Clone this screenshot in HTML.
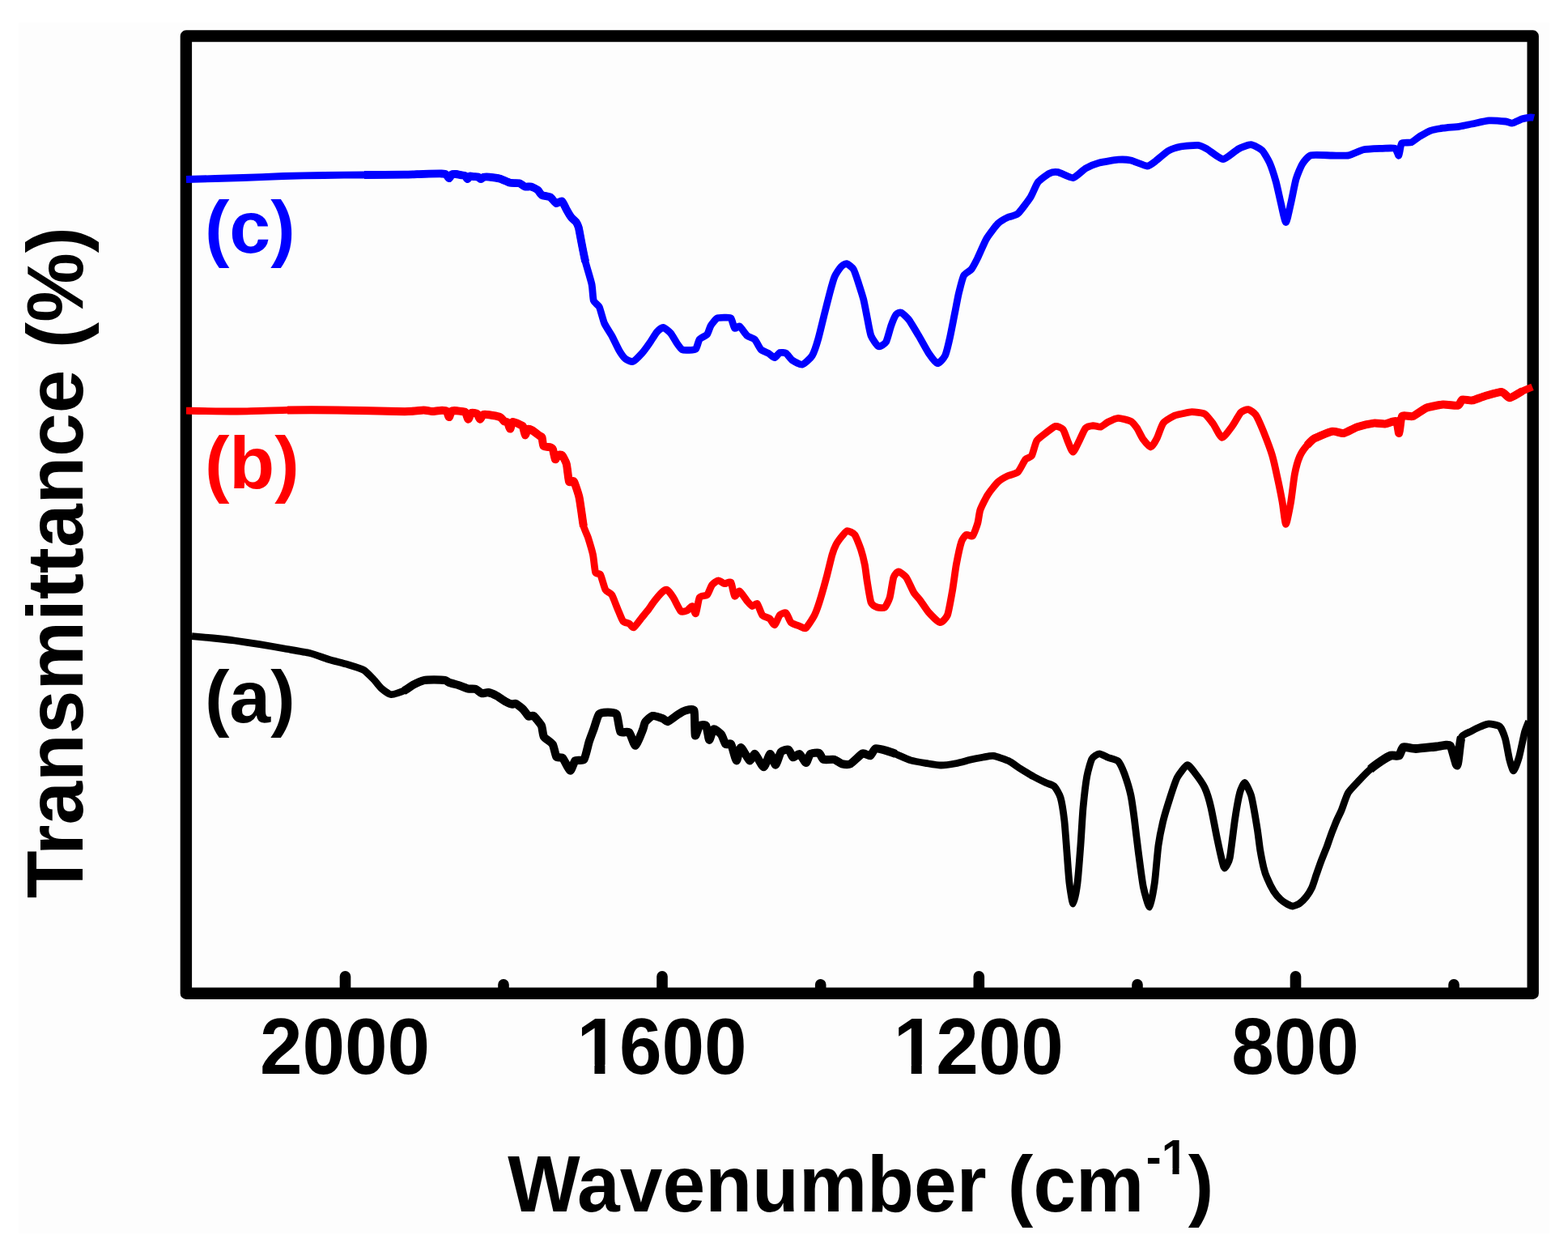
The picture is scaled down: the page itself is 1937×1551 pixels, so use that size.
<!DOCTYPE html>
<html><head><meta charset="utf-8"><title>FTIR spectra</title>
<style>html,body{margin:0;padding:0;background:#fff;}body{width:1937px;height:1551px;overflow:hidden;}svg{display:block;}</style>
</head><body>
<svg width="1937" height="1551" viewBox="0 0 1937 1551">
<rect width="1937" height="1551" fill="#ffffff"/>
<rect x="23" y="28" width="1891" height="1495" fill="#fdfdfd"/>
<path d="M426.5 1226.7V1205.8M818.0 1226.7V1205.8M1209.3 1226.7V1205.8M1600.5 1226.7V1205.8M622.0 1226.7V1215.8M1013.7 1226.7V1215.8M1405.0 1226.7V1215.8M1796.0 1226.7V1215.8" stroke="#000" stroke-width="13.6" stroke-linecap="round" fill="none"/>
<rect x="229.9" y="44.5" width="1663.8" height="1182.2" fill="none" stroke="#000" stroke-width="14.4" stroke-linejoin="round"/>
<path d="M237.0 785.6C239.6 785.8 258.1 787.5 263.4 788.0C268.7 788.5 284.0 790.2 289.7 791.0C295.4 791.8 314.5 794.6 320.7 795.6C326.9 796.6 345.4 799.9 351.6 801.0C357.8 802.1 377.2 805.2 382.6 806.5C388.0 807.8 401.2 812.8 405.8 814.2C410.4 815.6 424.7 819.1 429.0 820.4C433.3 821.7 445.9 825.5 449.2 827.4C452.5 829.3 459.4 836.8 461.6 839.0C463.8 841.2 468.7 847.9 470.9 849.8C473.1 851.7 480.5 857.3 483.3 857.6C486.1 857.9 496.1 854.2 498.8 853.0C501.5 851.8 507.8 847.1 510.3 845.8C512.8 844.5 521.1 840.7 523.7 840.1C526.3 839.5 533.5 839.4 536.1 839.4C538.7 839.4 547.6 839.7 549.6 840.1C551.6 840.5 554.0 842.6 555.8 843.2C557.5 843.8 564.8 845.6 567.1 846.3C569.4 847.0 576.4 850.0 578.5 850.5C580.6 851.0 586.1 850.4 587.8 851.0C589.4 851.6 593.5 855.7 595.0 856.1C596.5 856.5 601.4 854.8 603.3 855.1C605.2 855.4 611.5 858.1 613.6 859.2C615.7 860.3 622.0 865.0 623.9 866.0C625.8 867.0 630.9 869.3 632.2 869.6C633.5 869.9 635.9 868.3 637.3 869.0C638.7 869.7 645.1 874.8 646.6 876.3C648.1 877.8 651.6 883.7 652.8 884.5C654.0 885.3 657.4 882.9 659.0 884.0C660.6 885.1 667.5 893.3 668.8 895.9C670.1 898.5 670.5 907.5 671.9 909.8C673.3 912.1 681.2 916.6 682.7 919.1C684.2 921.6 686.2 932.9 687.4 934.6C688.6 936.3 693.4 934.5 695.1 936.2C696.8 937.9 702.9 951.3 704.4 951.6C705.9 951.9 708.9 940.7 710.6 939.3C712.3 937.9 719.8 940.0 721.5 937.7C723.2 935.4 726.5 919.9 727.7 916.0C728.9 912.1 732.7 902.4 733.9 899.0C735.1 895.6 738.3 883.9 740.0 882.0C741.7 880.1 748.7 879.6 750.9 879.6C753.1 879.6 760.2 879.6 761.7 882.0C763.2 884.4 764.9 901.4 766.4 903.6C767.9 905.8 775.3 902.7 777.2 904.4C779.1 906.1 783.3 921.1 785.0 920.7C786.7 920.3 793.1 903.4 794.3 900.5C795.5 897.6 795.8 893.4 797.0 891.8C798.2 890.1 804.1 884.5 806.3 884.0C808.5 883.5 816.8 886.5 818.7 887.2C820.6 887.9 823.0 891.5 824.9 891.0C826.8 890.5 835.1 883.9 837.3 882.5C839.5 881.1 844.7 877.9 846.7 877.4C848.7 876.9 856.2 874.3 857.4 877.4C858.6 880.5 858.1 906.4 858.8 908.3C859.5 910.2 862.9 897.4 864.2 896.2C865.5 895.0 871.0 894.5 872.2 896.2C873.4 898.0 875.3 913.3 876.2 913.7C877.1 914.1 880.1 901.0 881.6 900.3C883.1 899.6 889.5 905.1 891.0 907.0C892.5 908.9 895.2 917.8 896.4 919.0C897.6 920.2 901.8 917.0 903.1 919.0C904.4 921.0 908.6 938.8 909.8 939.2C911.0 939.6 913.6 923.0 915.2 923.0C916.8 923.0 924.2 938.4 925.9 939.2C927.6 940.0 930.9 930.3 932.6 931.1C934.4 931.9 941.5 947.2 943.4 947.2C945.3 947.2 949.9 931.4 951.4 931.1C952.9 930.8 956.8 944.9 958.1 944.6C959.4 944.3 963.2 930.4 964.8 928.5C966.4 926.6 972.7 925.1 974.2 925.8C975.7 926.5 978.2 934.7 979.6 935.2C981.0 935.7 986.1 930.4 987.7 931.1C989.3 931.8 994.4 941.9 995.7 941.9C997.0 941.9 999.4 932.3 1001.0 931.1C1002.6 929.9 1010.2 929.1 1011.8 929.8C1013.4 930.5 1015.3 937.1 1017.2 937.9C1019.1 938.7 1028.3 937.4 1030.6 937.9C1032.9 938.4 1038.0 942.7 1040.0 943.2C1042.0 943.7 1048.2 944.5 1050.7 943.2C1053.2 941.9 1063.1 931.5 1065.5 930.5C1067.9 929.5 1073.4 933.8 1075.0 933.2C1076.6 932.6 1079.6 925.0 1081.6 924.4C1083.6 923.8 1092.5 926.3 1095.0 927.0C1097.5 927.7 1103.5 929.9 1106.5 931.1C1109.5 932.3 1121.1 937.7 1125.0 938.9C1128.9 940.1 1141.5 942.1 1145.2 942.7C1148.9 943.3 1158.6 945.0 1162.2 945.0C1165.8 945.0 1177.1 943.4 1180.8 942.7C1184.5 942.0 1196.0 938.8 1199.4 938.0C1202.8 937.2 1212.1 935.5 1214.9 935.0C1217.7 934.5 1224.2 932.9 1227.3 933.4C1230.4 933.9 1242.4 938.0 1245.8 939.6C1249.2 941.2 1258.2 947.8 1261.3 949.7C1264.4 951.6 1273.7 957.3 1276.8 959.0C1279.9 960.7 1289.7 965.5 1292.3 966.7C1294.9 967.9 1300.6 969.3 1302.4 971.1C1304.2 972.9 1308.9 980.8 1310.1 985.0C1311.3 989.2 1314.0 1006.2 1314.8 1012.9C1315.6 1019.6 1317.3 1043.8 1317.9 1051.6C1318.5 1059.3 1320.2 1084.0 1321.0 1090.4C1321.8 1096.8 1324.6 1116.0 1325.6 1116.0C1326.6 1116.0 1330.1 1097.6 1331.0 1090.4C1331.9 1083.2 1334.2 1053.2 1334.9 1043.9C1335.6 1034.6 1337.2 1005.9 1338.0 997.4C1338.8 988.9 1341.6 964.7 1342.7 958.7C1343.8 952.7 1347.4 939.8 1348.9 937.0C1350.4 934.2 1356.1 930.9 1358.1 930.8C1360.1 930.6 1366.7 934.6 1369.0 935.5C1371.3 936.4 1379.4 938.1 1381.4 940.1C1383.4 942.1 1387.5 951.4 1389.1 955.6C1390.6 959.8 1395.7 976.3 1396.9 982.0C1398.1 987.7 1400.6 1005.9 1401.5 1012.9C1402.4 1019.9 1405.1 1043.4 1406.2 1051.6C1407.3 1059.8 1410.9 1088.2 1412.3 1095.0C1413.7 1101.8 1418.7 1120.5 1420.1 1120.0C1421.5 1119.5 1425.2 1098.0 1426.3 1090.4C1427.4 1082.8 1429.9 1051.7 1431.0 1043.9C1432.1 1036.2 1435.7 1018.6 1437.1 1012.9C1438.5 1007.2 1443.2 991.9 1444.9 986.6C1446.6 981.3 1452.0 964.5 1454.2 960.3C1456.4 956.1 1464.4 945.4 1466.6 944.8C1468.8 944.2 1473.6 951.3 1475.8 954.1C1478.0 956.9 1486.2 968.4 1488.2 972.7C1490.2 977.0 1494.5 991.0 1496.0 997.4C1497.5 1003.8 1502.3 1029.5 1503.7 1036.2C1505.1 1042.9 1509.0 1060.4 1509.9 1064.0C1510.8 1067.6 1512.1 1072.3 1513.0 1071.8C1513.9 1071.3 1518.0 1065.3 1519.2 1059.4C1520.4 1053.5 1524.2 1021.0 1525.4 1012.9C1526.6 1004.8 1530.4 983.5 1531.6 978.9C1532.8 974.3 1536.4 966.2 1537.8 966.5C1539.2 966.8 1544.4 978.6 1545.5 982.0C1546.6 985.4 1548.4 995.7 1549.2 1000.0C1550.0 1004.3 1552.6 1020.1 1553.4 1025.1C1554.2 1030.1 1556.0 1045.7 1556.8 1050.3C1557.6 1054.9 1560.2 1067.9 1561.0 1071.2C1561.8 1074.5 1563.8 1080.9 1565.1 1083.8C1566.3 1086.7 1571.8 1097.9 1573.5 1100.6C1575.2 1103.3 1580.2 1109.0 1581.9 1110.6C1583.6 1112.2 1588.8 1115.7 1590.3 1116.5C1591.8 1117.3 1595.5 1119.1 1597.0 1119.0C1598.5 1118.9 1603.7 1116.9 1605.4 1115.7C1607.1 1114.5 1612.3 1109.2 1613.8 1107.3C1615.3 1105.4 1619.2 1099.2 1620.5 1096.4C1621.8 1093.6 1625.1 1082.9 1626.3 1079.6C1627.5 1076.2 1630.9 1066.2 1632.2 1062.9C1633.5 1059.6 1637.6 1049.5 1638.9 1046.1C1640.2 1042.7 1643.5 1032.6 1644.8 1029.3C1646.1 1026.0 1650.2 1015.5 1651.5 1012.6C1652.8 1009.7 1656.0 1003.4 1657.4 1000.0C1658.8 996.6 1663.2 982.6 1665.4 979.0C1667.6 975.4 1676.3 966.6 1679.0 963.7C1681.7 960.8 1690.0 952.4 1692.7 950.0C1695.4 947.6 1703.8 941.5 1706.3 939.8C1708.8 938.1 1716.0 933.7 1718.2 933.0C1720.4 932.3 1726.9 934.0 1728.4 933.0C1729.9 932.0 1731.5 923.6 1733.5 922.8C1735.5 921.9 1744.8 924.6 1748.9 924.5C1753.0 924.4 1770.1 922.4 1774.4 922.0C1778.7 921.6 1788.9 918.7 1791.5 921.0C1794.1 923.3 1798.6 946.0 1800.0 945.0C1801.4 944.0 1803.4 915.1 1805.1 910.9C1806.8 906.7 1814.6 904.6 1817.0 903.2C1819.4 901.8 1826.8 898.2 1829.0 897.3C1831.2 896.4 1836.8 893.9 1839.2 893.9C1841.6 893.9 1850.8 895.4 1852.8 897.3C1854.8 899.2 1858.4 908.5 1859.6 912.6C1860.8 916.7 1863.7 934.1 1864.7 938.0C1865.7 941.9 1868.6 952.1 1869.8 951.8C1871.0 951.5 1875.2 939.5 1876.6 934.7C1878.0 929.9 1882.3 908.4 1883.5 904.0C1884.7 899.6 1888.1 891.8 1888.6 890.4" fill="none" stroke="#000000" stroke-width="8.8" stroke-linejoin="round" stroke-linecap="butt"/>
<path d="M498.8 853.0C501.5 851.8 507.8 847.1 510.3 845.8C512.8 844.5 521.1 840.7 523.7 840.1C526.3 839.5 533.5 839.4 536.1 839.4C538.7 839.4 547.6 839.7 549.6 840.1C551.6 840.5 554.0 842.6 555.8 843.2C557.5 843.8 564.8 845.6 567.1 846.3C569.4 847.0 576.4 850.0 578.5 850.5C580.6 851.0 586.1 850.4 587.8 851.0C589.4 851.6 593.5 855.7 595.0 856.1C596.5 856.5 601.4 854.8 603.3 855.1C605.2 855.4 611.5 858.1 613.6 859.2C615.7 860.3 622.0 865.0 623.9 866.0C625.8 867.0 630.9 869.3 632.2 869.6C633.5 869.9 635.9 868.3 637.3 869.0C638.7 869.7 645.1 874.8 646.6 876.3C648.1 877.8 651.6 883.7 652.8 884.5C654.0 885.3 657.4 882.9 659.0 884.0C660.6 885.1 667.5 893.3 668.8 895.9C670.1 898.5 670.5 907.5 671.9 909.8C673.3 912.1 681.2 916.6 682.7 919.1C684.2 921.6 686.2 932.9 687.4 934.6C688.6 936.3 693.4 934.5 695.1 936.2C696.8 937.9 702.9 951.3 704.4 951.6C705.9 951.9 708.9 940.7 710.6 939.3C712.3 937.9 719.8 940.0 721.5 937.7C723.2 935.4 726.5 919.9 727.7 916.0C728.9 912.1 732.7 902.4 733.9 899.0C735.1 895.6 738.3 883.9 740.0 882.0C741.7 880.1 748.7 879.6 750.9 879.6C753.1 879.6 760.2 879.6 761.7 882.0C763.2 884.4 764.9 901.4 766.4 903.6C767.9 905.8 775.3 902.7 777.2 904.4C779.1 906.1 783.3 921.1 785.0 920.7C786.7 920.3 793.1 903.4 794.3 900.5C795.5 897.6 795.8 893.4 797.0 891.8C798.2 890.1 804.1 884.5 806.3 884.0C808.5 883.5 816.8 886.5 818.7 887.2C820.6 887.9 823.0 891.5 824.9 891.0C826.8 890.5 835.1 883.9 837.3 882.5C839.5 881.1 844.7 877.9 846.7 877.4C848.7 876.9 856.2 874.3 857.4 877.4C858.6 880.5 858.1 906.4 858.8 908.3C859.5 910.2 862.9 897.4 864.2 896.2C865.5 895.0 871.0 894.5 872.2 896.2C873.4 898.0 875.3 913.3 876.2 913.7C877.1 914.1 880.1 901.0 881.6 900.3C883.1 899.6 889.5 905.1 891.0 907.0C892.5 908.9 895.2 917.8 896.4 919.0C897.6 920.2 901.8 917.0 903.1 919.0C904.4 921.0 908.6 938.8 909.8 939.2C911.0 939.6 913.6 923.0 915.2 923.0C916.8 923.0 924.2 938.4 925.9 939.2C927.6 940.0 930.9 930.3 932.6 931.1C934.4 931.9 941.5 947.2 943.4 947.2C945.3 947.2 949.9 931.4 951.4 931.1C952.9 930.8 956.8 944.9 958.1 944.6C959.4 944.3 963.2 930.4 964.8 928.5C966.4 926.6 972.7 925.1 974.2 925.8C975.7 926.5 978.2 934.7 979.6 935.2C981.0 935.7 986.1 930.4 987.7 931.1C989.3 931.8 994.4 941.9 995.7 941.9C997.0 941.9 999.4 932.3 1001.0 931.1C1002.6 929.9 1010.2 929.1 1011.8 929.8C1013.4 930.5 1015.3 937.1 1017.2 937.9C1019.1 938.7 1028.3 937.4 1030.6 937.9C1032.9 938.4 1038.0 942.7 1040.0 943.2C1042.0 943.7 1048.2 944.5 1050.7 943.2C1053.2 941.9 1063.1 931.5 1065.5 930.5C1067.9 929.5 1073.4 933.8 1075.0 933.2C1076.6 932.6 1079.6 925.0 1081.6 924.4C1083.6 923.8 1092.5 926.3 1095.0 927.0C1097.5 927.7 1103.5 929.9 1106.5 931.1" fill="none" stroke="#000000" stroke-width="10.2" stroke-linejoin="round" stroke-linecap="butt"/>
<path d="M1692.7 950.0C1695.4 947.6 1703.8 941.5 1706.3 939.8C1708.8 938.1 1716.0 933.7 1718.2 933.0C1720.4 932.3 1726.9 934.0 1728.4 933.0C1729.9 932.0 1731.5 923.6 1733.5 922.8C1735.5 921.9 1744.8 924.6 1748.9 924.5C1753.0 924.4 1770.1 922.4 1774.4 922.0C1778.7 921.6 1788.9 918.7 1791.5 921.0C1794.1 923.3 1798.6 946.0 1800.0 945.0C1801.4 944.0 1803.4 915.1 1805.1 910.9" fill="none" stroke="#000000" stroke-width="10.8" stroke-linejoin="round" stroke-linecap="butt"/>
<path d="M230.0 507.2C236.3 507.3 280.5 508.1 293.0 508.0C305.5 507.9 342.6 506.6 355.0 506.4C367.4 506.2 402.3 506.2 416.8 506.4C431.3 506.6 489.4 508.2 500.0 508.2C510.6 508.2 519.8 506.5 523.2 506.5C526.6 506.5 532.0 508.0 534.0 508.0C536.0 508.0 541.6 506.9 543.4 506.9C545.1 506.8 550.4 506.7 551.5 507.5C552.6 508.3 554.1 515.1 554.8 515.1C555.4 515.1 557.1 508.3 558.0 507.5C558.9 506.7 562.8 507.1 564.1 507.2C565.4 507.3 570.2 508.0 571.3 508.2C572.4 508.4 574.3 508.1 575.0 509.0C575.7 509.9 577.8 517.6 578.5 517.7C579.2 517.8 581.3 510.8 582.0 510.0C582.7 509.2 585.0 509.9 585.8 510.0C586.5 510.1 588.8 510.2 589.5 511.0C590.2 511.8 592.2 517.6 593.0 517.7C593.8 517.8 595.9 512.5 597.0 512.0C598.1 511.5 602.2 512.0 604.3 512.3C606.4 512.6 615.9 514.3 617.8 515.1C619.7 515.9 622.0 519.7 622.9 520.3C623.8 520.9 626.3 520.6 627.0 521.5C627.7 522.4 629.6 529.6 630.2 529.6C630.9 529.6 632.2 521.5 633.5 521.0C634.8 520.5 642.4 524.5 643.6 525.0C644.9 525.5 645.5 525.3 646.0 526.5C646.5 527.7 648.1 536.9 648.7 537.3C649.3 537.6 651.2 530.6 652.0 530.0C652.8 529.4 655.6 530.3 657.0 531.1C658.4 531.9 665.0 537.0 666.3 537.9C667.5 538.8 669.0 538.7 669.5 540.0C670.0 541.3 670.5 549.6 671.5 550.8C672.5 552.0 678.6 551.9 679.7 552.3C680.9 552.7 682.4 553.5 683.0 555.0C683.6 556.5 685.3 566.6 685.9 567.3C686.5 568.0 688.2 562.5 689.0 562.0C689.8 561.5 693.1 561.0 694.2 562.1C695.3 563.2 698.9 569.8 699.8 573.0C700.7 576.2 702.1 592.4 703.0 594.6C703.9 596.8 707.8 592.7 709.0 594.6C710.2 596.5 714.4 609.7 715.3 613.2C716.2 616.7 717.4 626.3 718.0 630.0C718.6 633.7 720.2 646.7 721.0 650.0C721.8 653.3 725.1 659.9 726.3 663.4C727.4 666.9 731.6 680.7 732.5 685.0C733.4 689.3 734.7 704.2 735.6 706.7C736.5 709.2 740.6 707.6 741.8 709.8C743.0 712.0 746.6 725.9 748.0 728.4C749.4 730.9 754.2 732.1 755.8 734.6C757.3 737.1 762.1 750.0 763.5 753.2C764.9 756.5 768.3 765.4 769.7 767.1C771.1 768.8 776.1 769.4 777.4 770.2C778.7 771.0 781.3 775.7 782.9 774.9C784.5 774.1 791.2 764.7 793.0 762.5C794.8 760.3 799.2 755.2 800.7 753.2C802.2 751.2 806.7 744.5 808.4 742.3C810.1 740.1 816.2 732.9 817.7 731.5C819.2 730.1 822.5 727.8 823.9 728.4C825.3 729.0 829.9 735.1 831.6 737.7C833.3 740.3 839.3 753.1 841.0 754.7C842.7 756.3 847.3 754.6 848.7 754.0C850.1 753.4 853.8 748.1 854.9 748.5C856.0 748.9 858.6 758.9 859.5 757.8C860.4 756.7 862.8 740.0 864.2 737.7C865.6 735.4 872.0 736.1 873.5 734.6C875.0 733.1 878.2 724.0 879.6 722.2C881.0 720.4 885.9 716.9 887.4 716.8C888.9 716.6 893.6 720.5 895.1 720.7C896.6 720.9 901.7 717.6 902.9 719.1C904.1 720.6 906.4 735.1 907.5 736.2C908.6 737.3 912.2 729.4 913.7 730.0C915.2 730.6 921.5 740.4 923.0 742.3C924.5 744.1 928.0 748.2 929.2 748.5C930.4 748.8 934.2 744.3 935.4 745.4C936.6 746.5 940.1 757.5 941.6 759.4C943.1 761.3 949.4 762.8 950.9 764.0C952.4 765.2 955.8 772.3 957.0 771.8C958.2 771.3 961.9 760.9 963.3 759.4C964.7 757.9 969.6 756.1 971.0 757.0C972.4 757.9 975.5 767.1 977.2 768.7C978.9 770.3 986.2 772.6 988.0 773.3C989.8 774.0 993.7 777.0 995.5 775.6C997.3 774.2 1004.4 763.2 1006.3 759.4C1008.1 755.6 1012.5 742.7 1014.0 737.7C1015.5 732.7 1020.4 715.1 1021.8 709.8C1023.2 704.5 1026.9 688.7 1028.0 685.0C1029.1 681.3 1031.5 675.0 1032.7 672.7C1033.9 670.4 1039.0 663.5 1040.4 661.8C1041.8 660.1 1045.0 655.8 1046.6 655.6C1048.1 655.5 1054.2 658.0 1055.9 660.3C1057.6 662.6 1062.4 675.2 1063.6 678.9C1064.8 682.6 1067.5 693.4 1068.3 697.4C1069.1 701.4 1070.6 714.5 1071.4 719.1C1072.2 723.8 1074.8 740.8 1076.0 743.9C1077.2 747.0 1082.1 749.4 1083.8 750.0C1085.5 750.6 1091.5 751.2 1093.0 750.0C1094.5 748.8 1098.1 741.4 1099.2 737.7C1100.3 734.0 1102.8 716.1 1103.9 712.9C1105.0 709.7 1108.5 706.0 1110.0 706.0C1111.5 706.0 1117.5 710.4 1119.4 712.9C1121.3 715.4 1127.0 728.7 1128.7 731.5C1130.4 734.3 1134.5 738.3 1136.4 740.8C1138.3 743.3 1144.8 753.5 1147.3 756.3C1149.8 759.1 1158.9 768.4 1161.2 768.7C1163.5 769.0 1169.0 763.4 1170.5 759.4C1172.0 755.4 1175.6 734.6 1176.7 728.4C1177.8 722.2 1180.2 703.3 1181.3 697.4C1182.4 691.5 1186.3 673.3 1187.5 669.6C1188.7 665.9 1192.3 661.1 1193.7 660.3C1195.1 659.5 1200.1 663.2 1201.5 661.8C1202.9 660.4 1206.8 649.5 1207.7 646.3C1208.7 643.1 1209.7 632.9 1211.0 629.4C1212.3 625.9 1218.1 614.2 1220.3 610.8C1222.5 607.4 1230.2 597.6 1232.7 595.3C1235.2 593.0 1242.5 588.8 1245.0 587.6C1247.5 586.4 1255.2 585.0 1257.4 583.0C1259.6 581.0 1265.0 569.4 1266.7 567.4C1268.4 565.4 1273.1 565.1 1274.5 562.8C1275.9 560.5 1279.0 547.0 1280.7 544.2C1282.4 541.4 1289.2 536.8 1291.5 535.0C1293.8 533.2 1301.7 526.9 1303.9 526.4C1306.1 525.9 1311.7 528.4 1313.2 530.3C1314.8 532.2 1318.2 543.0 1319.4 545.8C1320.6 548.6 1324.2 558.3 1325.6 558.1C1327.0 557.9 1331.8 547.1 1333.3 544.2C1334.8 541.3 1339.3 530.6 1341.0 528.7C1342.7 526.8 1348.5 525.8 1350.4 525.6C1352.3 525.5 1357.7 527.7 1359.6 527.2C1361.5 526.7 1366.8 522.1 1369.0 521.0C1371.2 519.9 1378.5 516.4 1381.3 516.3C1384.1 516.2 1394.5 519.0 1396.8 520.2C1399.1 521.4 1403.0 526.5 1404.6 528.7C1406.1 531.0 1410.6 540.4 1412.3 542.7C1414.0 545.0 1419.9 552.2 1421.6 552.0C1423.3 551.8 1427.8 544.0 1429.3 541.0C1430.8 538.0 1434.8 525.3 1437.0 522.5C1439.2 519.7 1448.7 514.4 1451.0 513.2C1453.3 512.1 1457.9 511.4 1460.0 511.0C1462.1 510.6 1469.6 508.7 1472.4 508.7C1475.2 508.7 1485.3 509.5 1487.9 511.0C1490.5 512.5 1496.5 520.5 1498.7 523.4C1500.9 526.3 1507.3 540.1 1509.6 540.4C1511.9 540.7 1519.7 529.6 1522.0 526.5C1524.3 523.4 1530.8 511.5 1532.8 509.4C1534.8 507.3 1540.1 505.3 1542.0 505.6C1543.9 505.9 1549.5 509.8 1551.4 512.5C1553.3 515.2 1558.7 527.8 1560.7 532.7C1562.7 537.7 1569.8 556.4 1571.5 562.0C1573.2 567.6 1576.5 582.7 1577.7 588.4C1579.0 594.1 1582.9 613.5 1584.0 619.4C1585.1 625.3 1587.4 647.3 1588.5 647.3C1589.6 647.3 1593.6 625.6 1594.7 619.4C1595.8 613.2 1598.3 590.9 1599.4 585.3C1600.5 579.7 1604.0 567.2 1605.6 563.6C1607.1 560.0 1613.0 551.9 1614.9 549.7C1616.8 547.5 1621.1 542.9 1624.2 541.2C1627.3 539.5 1642.2 533.3 1645.8 532.7C1649.4 532.1 1656.7 535.5 1659.8 535.0C1662.9 534.5 1673.1 528.4 1676.8 527.2C1680.5 526.0 1693.6 523.0 1697.0 522.6C1700.4 522.2 1708.1 523.6 1710.9 523.4C1713.7 523.2 1723.1 519.1 1724.8 520.3C1726.5 521.5 1727.6 535.6 1728.3 535.0C1729.0 534.4 1730.3 516.1 1732.0 514.0C1733.7 511.9 1742.4 515.0 1745.4 514.0C1748.4 513.0 1758.3 505.1 1762.0 503.7C1765.7 502.3 1778.7 499.9 1782.6 499.6C1786.5 499.3 1798.8 501.2 1801.2 500.6C1803.6 500.0 1804.7 494.0 1806.4 493.4C1808.2 492.8 1815.9 494.8 1818.7 494.4C1821.5 494.0 1830.6 490.2 1834.2 489.2C1837.8 488.2 1851.8 483.8 1854.9 484.0C1858.0 484.2 1862.6 491.4 1865.2 491.3C1867.8 491.2 1877.9 484.3 1880.7 483.0C1883.5 481.7 1891.8 478.4 1893.0 477.9" fill="none" stroke="#ff0000" stroke-width="8.8" stroke-linejoin="round" stroke-linecap="butt"/>
<path d="M355.0 506.4C367.4 506.2 402.3 506.2 416.8 506.4C431.3 506.6 489.4 508.2 500.0 508.2C510.6 508.2 519.8 506.5 523.2 506.5C526.6 506.5 532.0 508.0 534.0 508.0C536.0 508.0 541.6 506.9 543.4 506.9C545.1 506.8 550.4 506.7 551.5 507.5C552.6 508.3 554.1 515.1 554.8 515.1C555.4 515.1 557.1 508.3 558.0 507.5C558.9 506.7 562.8 507.1 564.1 507.2C565.4 507.3 570.2 508.0 571.3 508.2C572.4 508.4 574.3 508.1 575.0 509.0C575.7 509.9 577.8 517.6 578.5 517.7C579.2 517.8 581.3 510.8 582.0 510.0C582.7 509.2 585.0 509.9 585.8 510.0C586.5 510.1 588.8 510.2 589.5 511.0C590.2 511.8 592.2 517.6 593.0 517.7C593.8 517.8 595.9 512.5 597.0 512.0C598.1 511.5 602.2 512.0 604.3 512.3C606.4 512.6 615.9 514.3 617.8 515.1C619.7 515.9 622.0 519.7 622.9 520.3C623.8 520.9 626.3 520.6 627.0 521.5C627.7 522.4 629.6 529.6 630.2 529.6C630.9 529.6 632.2 521.5 633.5 521.0C634.8 520.5 642.4 524.5 643.6 525.0C644.9 525.5 645.5 525.3 646.0 526.5C646.5 527.7 648.1 536.9 648.7 537.3C649.3 537.6 651.2 530.6 652.0 530.0C652.8 529.4 655.6 530.3 657.0 531.1C658.4 531.9 665.0 537.0 666.3 537.9C667.5 538.8 669.0 538.7 669.5 540.0C670.0 541.3 670.5 549.6 671.5 550.8C672.5 552.0 678.6 551.9 679.7 552.3C680.9 552.7 682.4 553.5 683.0 555.0C683.6 556.5 685.3 566.6 685.9 567.3C686.5 568.0 688.2 562.5 689.0 562.0C689.8 561.5 693.1 561.0 694.2 562.1C695.3 563.2 698.9 569.8 699.8 573.0C700.7 576.2 702.1 592.4 703.0 594.6C703.9 596.8 707.8 592.7 709.0 594.6C710.2 596.5 714.4 609.7 715.3 613.2C716.2 616.7 717.4 626.3 718.0 630.0C718.6 633.7 720.2 646.7 721.0 650.0" fill="none" stroke="#ff0000" stroke-width="10.0" stroke-linejoin="round" stroke-linecap="butt"/>
<path d="M1614.9 549.7C1616.8 547.5 1621.1 542.9 1624.2 541.2C1627.3 539.5 1642.2 533.3 1645.8 532.7C1649.4 532.1 1656.7 535.5 1659.8 535.0C1662.9 534.5 1673.1 528.4 1676.8 527.2C1680.5 526.0 1693.6 523.0 1697.0 522.6C1700.4 522.2 1708.1 523.6 1710.9 523.4C1713.7 523.2 1723.1 519.1 1724.8 520.3C1726.5 521.5 1727.6 535.6 1728.3 535.0C1729.0 534.4 1730.3 516.1 1732.0 514.0C1733.7 511.9 1742.4 515.0 1745.4 514.0C1748.4 513.0 1758.3 505.1 1762.0 503.7C1765.7 502.3 1778.7 499.9 1782.6 499.6C1786.5 499.3 1798.8 501.2 1801.2 500.6C1803.6 500.0 1804.7 494.0 1806.4 493.4C1808.2 492.8 1815.9 494.8 1818.7 494.4C1821.5 494.0 1830.6 490.2 1834.2 489.2C1837.8 488.2 1851.8 483.8 1854.9 484.0C1858.0 484.2 1862.6 491.4 1865.2 491.3C1867.8 491.2 1877.9 484.3 1880.7 483.0" fill="none" stroke="#ff0000" stroke-width="10.0" stroke-linejoin="round" stroke-linecap="butt"/>
<path d="M230.0 221.5C237.0 221.3 288.0 219.9 300.0 219.5C312.0 219.1 340.0 217.8 350.0 217.5C360.0 217.2 390.0 216.7 400.0 216.5C410.0 216.3 440.0 216.1 450.0 216.0C460.0 215.9 492.7 215.7 500.0 215.6C507.3 215.5 518.5 214.9 523.0 214.8C527.5 214.7 542.7 214.4 545.5 214.5C548.3 214.6 550.1 214.9 551.0 215.5C551.9 216.1 554.1 220.2 554.8 220.2C555.5 220.2 557.2 216.0 558.0 215.5C558.8 215.0 561.7 214.9 563.0 215.0C564.3 215.1 570.1 216.3 571.3 216.5C572.4 216.7 573.9 216.5 574.5 217.0C575.1 217.5 576.9 221.1 577.5 221.2C578.1 221.2 579.8 217.8 580.5 217.5C581.2 217.2 583.7 218.0 584.7 218.1C585.7 218.2 589.6 218.2 590.5 218.5C591.4 218.8 593.3 221.2 594.0 221.2C594.7 221.2 596.5 219.1 597.5 218.8C598.5 218.5 602.3 218.4 604.3 218.6C606.3 218.8 615.2 220.0 617.8 220.7C620.4 221.4 627.8 225.2 630.2 225.8C632.6 226.4 639.6 225.8 641.5 226.3C643.4 226.8 647.2 230.1 648.7 230.5C650.2 230.9 654.5 230.1 656.0 230.5C657.5 230.9 662.9 233.5 664.2 234.6C665.5 235.7 667.9 240.1 669.4 241.0C670.9 241.9 677.9 242.4 679.7 243.4C681.5 244.4 685.5 250.5 687.0 251.0C688.5 251.5 693.0 247.8 694.2 248.5C695.4 249.2 698.2 255.8 699.3 257.8C700.4 259.8 704.3 266.5 705.5 268.1C706.7 269.8 710.8 273.0 711.7 274.3C712.6 275.6 714.2 278.7 714.8 281.0C715.4 283.3 717.2 293.5 718.0 297.7C718.8 301.9 721.9 317.9 723.2 323.2C724.5 328.5 730.0 346.2 731.0 351.0C732.0 355.8 732.4 368.4 733.3 371.2C734.2 374.0 739.0 376.2 740.3 379.0C741.6 381.8 745.0 395.4 746.5 399.0C748.0 402.6 753.9 411.2 755.8 414.6C757.6 418.0 763.3 430.1 765.0 433.0C766.7 435.9 771.1 442.0 772.8 443.3C774.5 444.6 780.0 447.1 782.0 446.4C784.0 445.7 791.0 438.5 793.0 436.3C795.0 434.1 800.4 426.6 802.2 424.0C804.1 421.4 809.8 411.9 811.5 410.0C813.2 408.1 817.5 404.4 819.2 404.5C820.9 404.6 826.8 409.6 828.5 411.5C830.2 413.4 834.9 422.0 836.3 424.0C837.7 426.0 841.1 430.8 842.5 431.6C843.9 432.4 848.5 432.5 850.2 432.4C851.9 432.3 858.1 432.3 859.5 431.0C860.9 429.7 862.8 420.8 864.2 419.0C865.6 417.2 872.1 414.7 873.5 413.0C874.9 411.3 876.8 404.2 878.0 402.2C879.2 400.2 884.1 394.0 885.8 393.0C887.5 392.0 893.3 392.1 895.0 392.1C896.7 392.1 901.8 391.7 903.0 393.0C904.2 394.3 906.4 404.3 907.5 405.3C908.6 406.3 912.2 402.1 913.7 403.0C915.2 403.9 921.1 413.0 923.0 414.6C924.9 416.2 930.6 417.5 932.3 419.2C934.0 420.9 938.3 429.9 940.0 431.6C941.7 433.3 947.6 435.3 949.3 436.3C951.0 437.3 955.6 441.8 957.0 441.7C958.4 441.6 961.9 436.0 963.3 435.5C964.7 435.0 969.5 435.4 971.0 436.3C972.5 437.2 976.8 443.4 978.8 444.8C980.8 446.2 988.6 450.7 991.0 450.2C993.4 449.7 1001.2 442.6 1003.2 439.4C1005.2 436.1 1009.5 423.0 1011.0 417.7C1012.5 412.4 1017.3 392.3 1018.7 386.7C1020.1 381.1 1023.8 366.5 1025.0 362.0C1026.2 357.5 1029.6 345.1 1031.0 341.8C1032.4 338.5 1037.4 331.0 1038.9 329.4C1040.4 327.8 1044.3 325.3 1045.8 325.6C1047.3 325.9 1052.8 330.1 1054.3 332.5C1055.8 334.9 1059.3 345.9 1060.5 349.6C1061.7 353.3 1065.6 365.4 1066.7 369.7C1067.8 374.0 1070.5 388.5 1071.4 393.0C1072.3 397.5 1074.6 411.1 1076.0 414.6C1077.4 418.1 1083.4 427.0 1085.3 427.8C1087.2 428.6 1093.0 424.9 1094.6 422.3C1096.1 419.7 1099.6 405.6 1100.8 402.2C1102.0 398.8 1105.8 389.9 1107.0 388.3C1108.2 386.7 1111.7 385.4 1113.2 386.0C1114.8 386.6 1120.3 391.6 1122.5 394.5C1124.7 397.4 1132.4 410.4 1134.9 414.6C1137.4 418.8 1145.0 432.9 1147.3 436.3C1149.6 439.7 1156.0 448.4 1158.0 448.7C1160.0 449.0 1165.8 442.6 1167.4 439.4C1169.0 436.1 1172.4 421.6 1173.6 416.2C1174.8 410.8 1178.7 390.6 1179.8 385.2C1180.9 379.8 1183.3 366.5 1184.4 362.0C1185.5 357.5 1189.0 343.2 1190.6 340.3C1192.2 337.4 1198.3 334.7 1200.0 332.5C1201.7 330.3 1205.8 322.4 1207.7 318.6C1209.6 314.8 1216.2 298.9 1218.7 294.7C1221.2 290.5 1230.1 278.8 1232.7 276.2C1235.3 273.6 1242.5 269.6 1245.0 268.4C1247.5 267.2 1254.6 266.3 1257.4 263.8C1260.2 261.3 1270.5 247.5 1273.0 243.6C1275.5 239.7 1279.9 227.9 1282.2 225.0C1284.5 222.1 1293.7 215.4 1296.2 214.2C1298.7 213.0 1304.1 212.2 1307.0 212.7C1309.9 213.2 1322.2 220.1 1325.6 219.6C1329.0 219.1 1337.8 209.9 1341.0 208.0C1344.2 206.1 1354.0 202.1 1358.0 201.0C1362.0 199.9 1377.4 197.5 1381.3 197.2C1385.2 196.9 1393.2 197.2 1396.8 198.0C1400.4 198.8 1413.9 204.9 1417.0 205.0C1420.1 205.1 1425.2 200.6 1427.8 198.7C1430.4 196.8 1440.2 188.1 1443.3 186.3C1446.4 184.5 1455.1 181.7 1458.8 181.0C1462.5 180.3 1476.8 179.1 1480.0 179.4C1483.2 179.7 1487.9 182.3 1491.0 184.0C1494.1 185.7 1507.1 196.5 1511.0 196.5C1514.9 196.5 1526.3 185.8 1529.7 184.0C1533.1 182.2 1542.3 178.5 1545.2 178.7C1548.1 178.9 1556.7 183.4 1559.0 185.6C1561.3 187.8 1566.7 197.1 1568.4 201.0C1570.1 204.9 1574.8 219.3 1576.2 224.3C1577.6 229.3 1581.1 245.7 1582.3 250.7C1583.5 255.7 1587.3 274.5 1588.5 274.5C1589.7 274.5 1593.5 256.0 1594.7 250.7C1596.0 245.4 1599.6 226.0 1601.0 221.2C1602.4 216.4 1606.9 205.6 1608.7 202.7C1610.5 199.8 1615.8 192.9 1619.5 191.8C1623.2 190.7 1641.1 192.0 1645.8 192.0C1650.5 192.0 1662.1 192.5 1666.0 191.8C1669.9 191.1 1680.4 185.7 1684.6 184.8C1688.8 184.0 1703.9 183.5 1707.8 183.3C1711.7 183.2 1721.3 182.4 1723.3 183.3C1725.3 184.2 1727.2 192.6 1728.0 192.0C1728.8 191.4 1730.0 178.6 1731.5 177.0C1733.0 175.4 1741.2 176.7 1743.4 175.8C1745.6 175.0 1751.3 169.9 1753.7 168.5C1756.1 167.1 1764.2 162.3 1767.1 161.3C1770.0 160.3 1779.0 158.7 1782.6 158.2C1786.2 157.7 1799.7 156.6 1803.3 156.1C1806.9 155.6 1815.1 153.7 1818.7 153.0C1822.3 152.3 1835.3 149.2 1839.4 148.9C1843.5 148.6 1857.1 149.7 1860.0 150.0C1862.9 150.3 1866.2 152.3 1868.3 152.0C1870.4 151.7 1878.4 147.5 1880.7 146.8C1883.0 146.1 1889.6 145.0 1891.0 144.8C1892.4 144.7 1894.6 145.2 1895.0 145.3" fill="none" stroke="#0000ff" stroke-width="8.8" stroke-linejoin="round" stroke-linecap="butt"/>
<path d="M450.0 216.0C460.0 215.9 492.7 215.7 500.0 215.6C507.3 215.5 518.5 214.9 523.0 214.8C527.5 214.7 542.7 214.4 545.5 214.5C548.3 214.6 550.1 214.9 551.0 215.5C551.9 216.1 554.1 220.2 554.8 220.2C555.5 220.2 557.2 216.0 558.0 215.5C558.8 215.0 561.7 214.9 563.0 215.0C564.3 215.1 570.1 216.3 571.3 216.5C572.4 216.7 573.9 216.5 574.5 217.0C575.1 217.5 576.9 221.1 577.5 221.2C578.1 221.2 579.8 217.8 580.5 217.5C581.2 217.2 583.7 218.0 584.7 218.1C585.7 218.2 589.6 218.2 590.5 218.5C591.4 218.8 593.3 221.2 594.0 221.2C594.7 221.2 596.5 219.1 597.5 218.8C598.5 218.5 602.3 218.4 604.3 218.6C606.3 218.8 615.2 220.0 617.8 220.7C620.4 221.4 627.8 225.2 630.2 225.8C632.6 226.4 639.6 225.8 641.5 226.3C643.4 226.8 647.2 230.1 648.7 230.5C650.2 230.9 654.5 230.1 656.0 230.5C657.5 230.9 662.9 233.5 664.2 234.6C665.5 235.7 667.9 240.1 669.4 241.0C670.9 241.9 677.9 242.4 679.7 243.4C681.5 244.4 685.5 250.5 687.0 251.0C688.5 251.5 693.0 247.8 694.2 248.5C695.4 249.2 698.2 255.8 699.3 257.8C700.4 259.8 704.3 266.5 705.5 268.1C706.7 269.8 710.8 273.0 711.7 274.3C712.6 275.6 714.2 278.7 714.8 281.0C715.4 283.3 717.2 293.5 718.0 297.7C718.8 301.9 721.9 317.9 723.2 323.2" fill="none" stroke="#0000ff" stroke-width="9.8" stroke-linejoin="round" stroke-linecap="butt"/>
<text x="252.9" y="311.5" font-size="91.5" fill="#0000ff" font-family="'Liberation Sans', Arial, sans-serif" font-weight="bold">(c)</text>
<text x="252.9" y="603.2" font-size="91.5" fill="#ff0000" font-family="'Liberation Sans', Arial, sans-serif" font-weight="bold">(b)</text>
<text x="252.9" y="892.3" font-size="91.5" fill="#000000" font-family="'Liberation Sans', Arial, sans-serif" font-weight="bold">(a)</text>
<defs><clipPath id="c1" clipPathUnits="userSpaceOnUse"><rect x="-200" y="-200" width="400" height="189.36"/><rect x="-83.06" y="-12" width="12.97" height="40"/><rect x="-52.56" y="-12" width="300" height="40"/></clipPath><clipPath id="c2" clipPathUnits="userSpaceOnUse"><rect x="-50" y="-300" width="1000" height="249.18"/><rect x="821.27" y="-80" width="8.10" height="100"/></clipPath></defs>
<text transform="translate(426.0 1326) scale(1 1.046)" text-anchor="middle" font-size="94.5" fill="#000" font-family="'Liberation Sans', Arial, sans-serif" font-weight="bold">2000</text>
<text transform="translate(817.5 1326) scale(1 1.046)" text-anchor="middle" font-size="94.5" fill="#000" clip-path="url(#c1)" font-family="'Liberation Sans', Arial, sans-serif" font-weight="bold">1600</text>
<text transform="translate(1208.8 1326) scale(1 1.046)" text-anchor="middle" font-size="94.5" fill="#000" clip-path="url(#c1)" font-family="'Liberation Sans', Arial, sans-serif" font-weight="bold">1200</text>
<text transform="translate(1600.0 1326) scale(1 1.046)" text-anchor="middle" font-size="94.5" fill="#000" font-family="'Liberation Sans', Arial, sans-serif" font-weight="bold">800</text>
<g transform="translate(627.2 1495.7) scale(1 1.0386)" fill="#000" font-family="'Liberation Sans', Arial, sans-serif" font-weight="bold">
<text x="0" y="0" font-size="94.74">Wavenumber (cm</text>
<text x="788.6" y="-44.9" font-size="56.5">-</text>
<text x="807.50" y="-43.80" font-size="59.00" clip-path="url(#c2)">1</text>
<text x="840.5" y="0" font-size="94.74">)</text>
</g>
<text transform="translate(102 694.8) rotate(-90) scale(1 1.0255)" text-anchor="middle" font-size="96.28" fill="#000" font-family="'Liberation Sans', Arial, sans-serif" font-weight="bold">Transmittance (%)</text>
</svg>
</body></html>
